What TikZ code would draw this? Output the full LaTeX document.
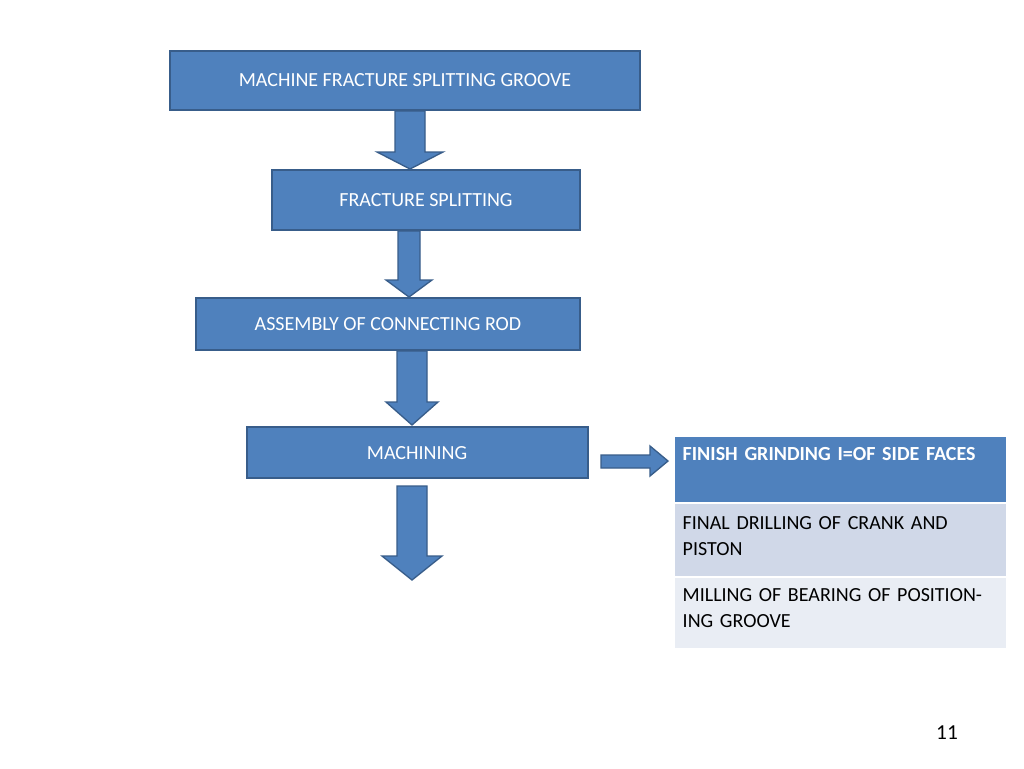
\documentclass[tikz,border=0pt]{standalone}
\usepackage{fontspec}
\setmainfont{Carlito}
\begin{document}
\begin{tikzpicture}[x=0.75pt,y=-0.75pt,
  box/.style={draw=boxb,line width=1.2pt,fill=boxf,text=white,font=\fontsize{15}{18}\selectfont},
  arr/.style={draw=boxb,line width=1pt,fill=boxf},
  cell/.style={font=\fontsize{15}{19}\selectfont,anchor=north west,align=left,text width=225pt}]
\definecolor{boxf}{HTML}{4F81BD}
\definecolor{boxb}{HTML}{385D8A}
\definecolor{rowa}{HTML}{D0D8E8}
\definecolor{rowb}{HTML}{E9EDF4}
\useasboundingbox (0,0) rectangle (1024,768);
\fill[white] (0,0) rectangle (1024,768);
% boxes
\draw[box] (170,51) rectangle (640,110) node[midway] (b1) {MACHINE FRACTURE SPLITTING GROOVE};
\draw[box] (272,170) rectangle (580,230) node[midway] (b2) {FRACTURE SPLITTING};
\draw[box] (196,298) rectangle (580,350) node[midway] (b3) {ASSEMBLY OF CONNECTING ROD};
\draw[box] (247,427) rectangle (588,478) node[midway,yshift=-6pt,anchor=center] (b4) {};
\node[text=white,font=\fontsize{15}{18}\selectfont] at (417,453) {MACHINING};
% block arrows
\draw[arr] (395,111)--(425,111)--(425,152)--(443,152)--(410,169)--(377,152)--(395,152)--cycle;
\draw[arr] (398,231)--(420,231)--(420,280)--(432,280)--(409,297)--(386,280)--(398,280)--cycle;
\draw[arr] (397,351)--(427,351)--(427,402)--(438,402)--(412,425)--(386,402)--(397,402)--cycle;
\draw[arr] (397,486)--(427,486)--(427,556)--(442,556)--(412,580)--(382,556)--(397,556)--cycle;
\draw[arr] (601,455)--(650,455)--(650,446)--(668,461)--(650,476)--(650,468)--(601,468)--cycle;
% table
\fill[boxf] (675,437) rectangle (1006,503);
\fill[rowa] (675,503) rectangle (1006,577);
\fill[rowb] (675,577) rectangle (1006,648);
\draw[white,line width=1.5pt] (675,503)--(1006,503) (675,577)--(1006,577);
\node[cell,text=white,font=\fontsize{15}{19}\selectfont\bfseries] (t1) at (678,443) {FINISH GRINDING I=OF SIDE FACES};
\node[cell] (t2) at (678,512) {FINAL DRILLING OF CRANK AND PISTON};
\node[cell] (t3) at (678,584) {MILLING OF BEARING OF POSITIONING GROOVE};
\node[font=\fontsize{16}{19}\selectfont] (pg) at (947,733) {11};
\end{tikzpicture}
\end{document}
